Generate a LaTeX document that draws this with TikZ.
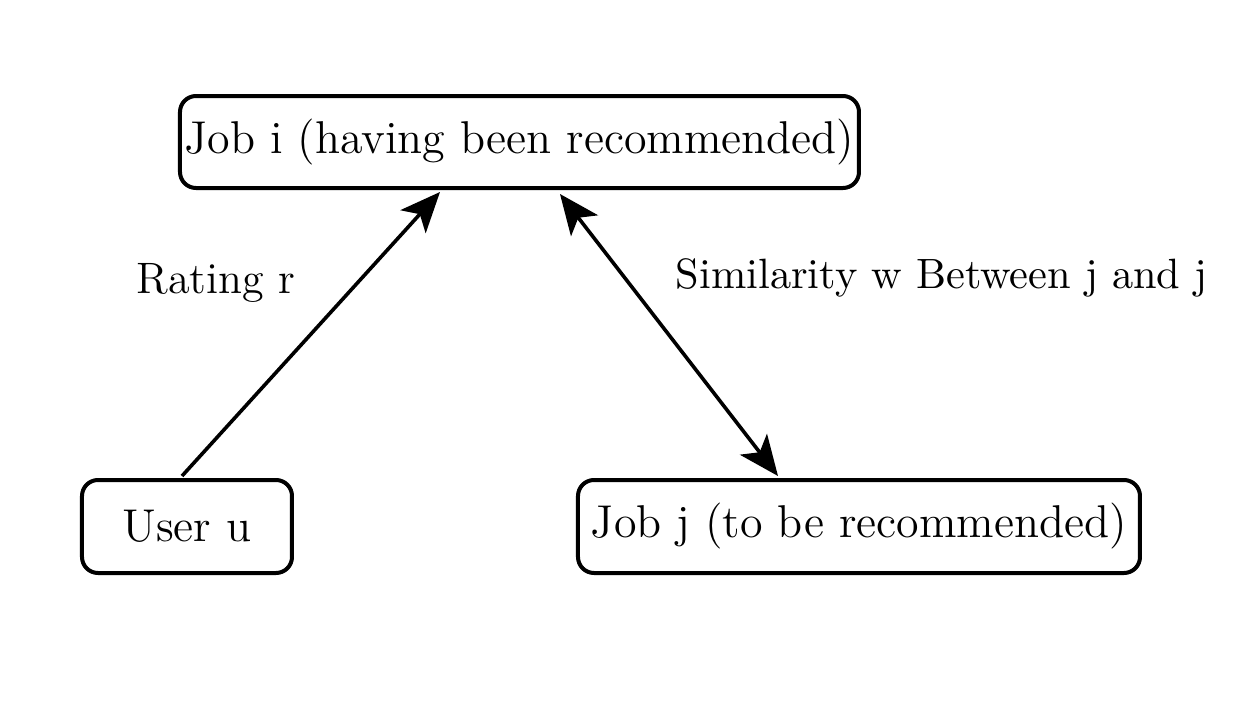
\documentclass[tikz,border=0pt]{standalone}
\usetikzlibrary{arrows.meta,calc}
\begin{document}
\begin{tikzpicture}[x=0.25pt,y=-0.25pt,
  box/.style={draw,line width=1pt,rounded corners=4pt,inner sep=0pt,font=\fontsize{11.5}{13}\selectfont},
  lbl/.style={font=\fontsize{11}{13}\selectfont,inner sep=0pt},
  arr/.style={line width=0.9pt,-{Stealth[length=10pt,width=8.5pt,inset=2.5pt]}},
  darr/.style={line width=0.9pt,{Stealth[length=10pt,width=8.5pt,inset=2.5pt]}-{Stealth[length=10pt,width=8.5pt,inset=2.5pt]}}]
\useasboundingbox (0,0) rectangle (1247,708);
\node[box,minimum width=169.75pt,minimum height=23pt] (jobi) at (519.5,142) {Job i (having been recommended)};
\node[box,minimum width=52.5pt,minimum height=23.25pt] (user) at (187,526.5) {User u};
\node[box,minimum width=140.5pt,minimum height=23.25pt] (jobj) at (859,526.5) {Job j (to be recommended)};
\draw[arr] ($(user.north)+(-5,-2)$) -- ($(jobi.south)+(-79.5,2)$);
\draw[darr] ($(jobi.south)+(40.5,4)$) -- ($(jobj.north)+(-81,-2)$);
\node[lbl] (r) at (216,283) {Rating r};
\node[lbl,anchor=west,font=\fontsize{10.6}{13}\selectfont] (w) at (675,278) {Similarity w Between j and j};
\end{tikzpicture}
\end{document}
